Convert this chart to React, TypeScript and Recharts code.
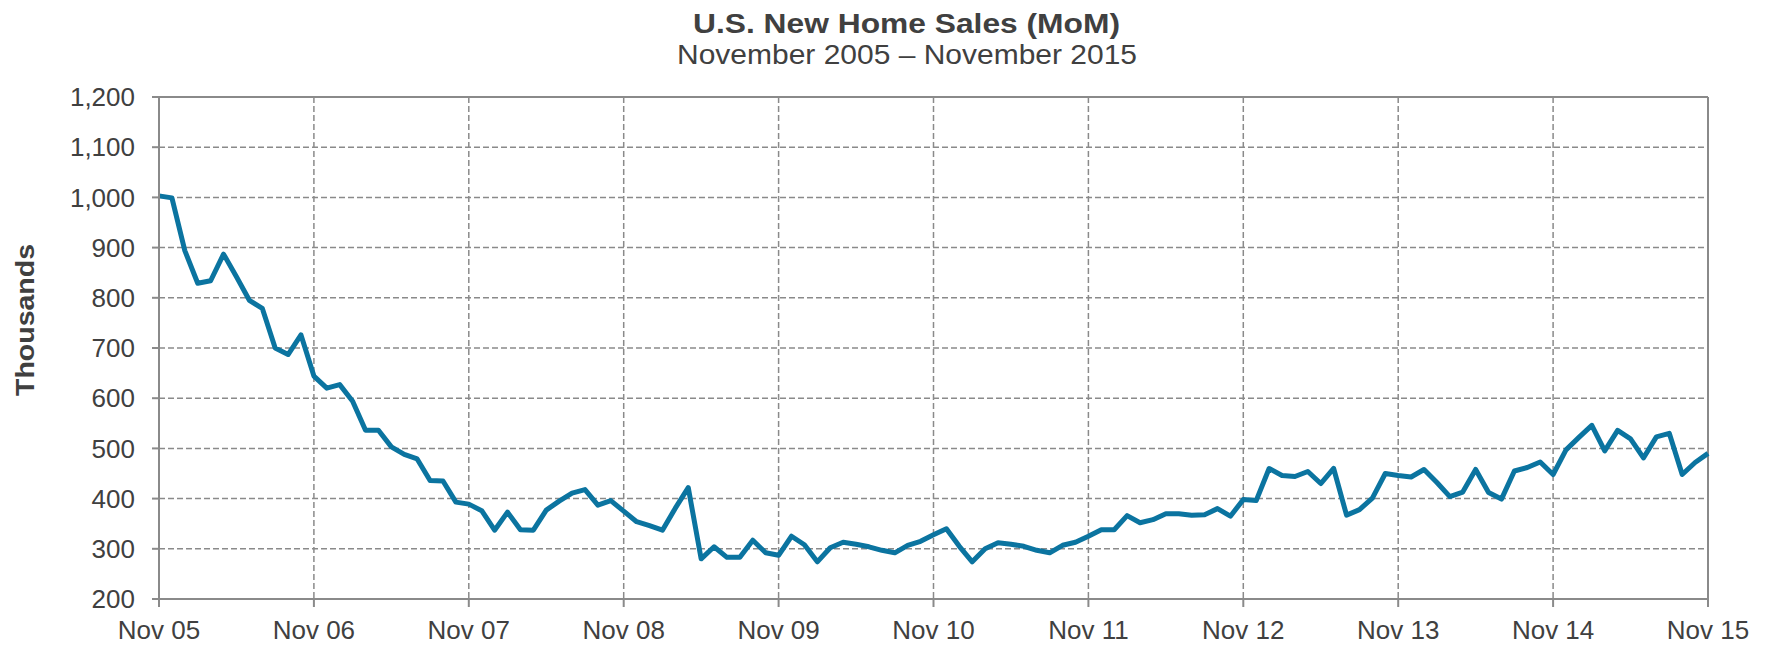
import React from 'react';
import { LineChart, Line, XAxis, YAxis, CartesianGrid, ReferenceLine } from 'recharts';

const title = 'U.S. New Home Sales (MoM)';
const subtitle = 'November 2005 \u2013 November 2015';
const yAxisTitle = 'Thousands';

// Monthly sales, Nov 2005 .. Nov 2015 (thousands)
const sales: number[] = [
  1003, 999, 894, 829, 834, 887, 842, 795, 779, 700, 687, 726,
  644, 620, 627, 594, 536, 536, 503, 488, 479, 436, 435, 393,
  389, 376, 337, 373, 338, 337, 377, 395, 411, 418, 387, 396,
  375, 354, 346, 337, 381, 422, 280, 304, 283, 283, 317, 292,
  287, 325, 308, 274, 302, 313, 309, 304, 297, 292, 307, 315,
  328, 340, 305, 274, 300, 312, 309, 305, 297, 292, 307, 313,
  325, 338, 338, 366, 352, 358, 370, 370, 367, 368, 380, 365,
  398, 396, 460, 446, 444, 454, 430, 460, 367, 378, 401, 450,
  446, 443, 458, 432, 404, 413, 458, 412, 399, 455, 462, 473,
  448, 497, 522, 546, 495, 536, 519, 481, 523, 530, 448, 472,
  490,
];

const xTickLabels = ['Nov 05', 'Nov 06', 'Nov 07', 'Nov 08', 'Nov 09', 'Nov 10', 'Nov 11', 'Nov 12', 'Nov 13', 'Nov 14', 'Nov 15'];
const xTickPositions = [0, 12, 24, 36, 48, 60, 72, 84, 96, 108, 120];
const yTicks = [200, 300, 400, 500, 600, 700, 800, 900, 1000, 1100, 1200];

const data = sales.map((v, i) => ({ idx: i, sales: v }));

const FONT = '"Liberation Sans", Arial, sans-serif';
const TEXT = '#404040';
const GRID = '#8a8a8a';
const AXIS = '#8a8a8a';

export default function App() {
  return (
    <div style={{ position: 'absolute', left: 0, top: 0, width: 1775, height: 648, background: '#fff', fontFamily: FONT }}>
      <div style={{ position: 'absolute', left: 0, top: 0 }}>
        <LineChart width={1775} height={648} data={data} margin={{ top: 97, right: 67, bottom: 0, left: 0 }}>
          <CartesianGrid stroke={GRID} strokeWidth={1.5} strokeDasharray="6 3" />
          <XAxis
            dataKey="idx"
            type="number"
            domain={[0, 120]}
            ticks={xTickPositions}
            tickFormatter={(v: number) => xTickLabels[xTickPositions.indexOf(v)] ?? ''}
            height={49}
            tickSize={8}
            tickMargin={14}
            stroke={AXIS}
            strokeWidth={2}
            tick={{ fill: TEXT, fontSize: 26, fontFamily: FONT }}
            interval={0}
          />
          <YAxis
            domain={[200, 1200]}
            ticks={yTicks}
            width={159}
            tickSize={7}
            tickMargin={17}
            stroke={AXIS}
            strokeWidth={2}
            tick={{ fill: TEXT, fontSize: 26, fontFamily: FONT }}
            tickFormatter={(v: number) => v.toLocaleString('en-US')}
            interval={0}
          />
          <ReferenceLine x={120} stroke={AXIS} strokeWidth={2} />
          <ReferenceLine y={1200} stroke={AXIS} strokeWidth={2} />
          <Line
            type="linear"
            dataKey="sales"
            stroke="#0b74a0"
            strokeWidth={5}
            dot={false}
            activeDot={false}
            isAnimationActive={false}
            strokeLinejoin="round"
          />
        </LineChart>
      </div>
      <svg width={1775} height={648} style={{ position: 'absolute', left: 0, top: 0, pointerEvents: 'none' }}>
        <text x={906.5} y={33.3} textAnchor="middle" fontFamily={FONT} fontSize={28} fontWeight="bold" fill={TEXT}
          textLength={427} lengthAdjust="spacingAndGlyphs">{title}</text>
        <text x={907} y={64.3} textAnchor="middle" fontFamily={FONT} fontSize={28} fill={TEXT}
          textLength={460} lengthAdjust="spacingAndGlyphs">{subtitle}</text>
        <text x={0} y={0} transform="translate(34, 320) rotate(-90)" textAnchor="middle" fontFamily={FONT} fontSize={26}
          fontWeight="bold" fill={TEXT} textLength={152} lengthAdjust="spacingAndGlyphs">{yAxisTitle}</text>
      </svg>
    </div>
  );
}
